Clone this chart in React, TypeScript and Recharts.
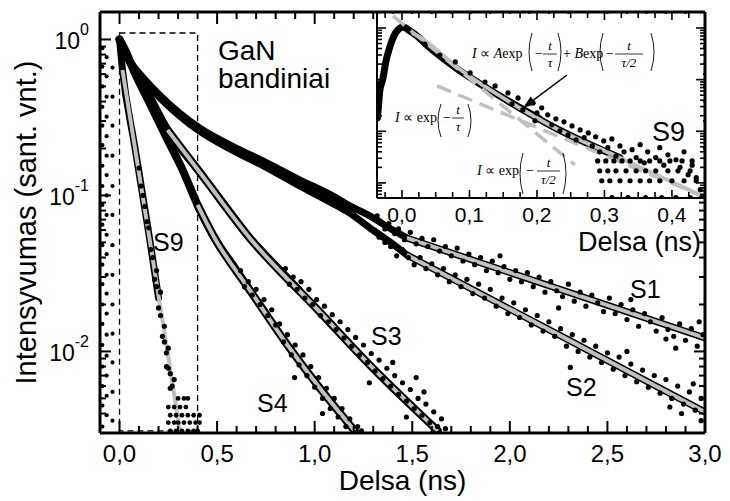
import React from 'react';
import { ComposedChart, Line, XAxis, YAxis, ReferenceArea } from 'recharts';

const SANS = '"Liberation Sans", Arial, Helvetica, sans-serif';
const SERIF = '"Liberation Serif", "Times New Roman", Times, serif';
const FIT = '#c0c0c0';

// ---------- main plot: axes
const xMajor = [0, 0.5, 1, 1.5, 2, 2.5, 3];
const xLabels = ['0,0', '0,5', '1,0', '1,5', '2,0', '2,5', '3,0'];
const xMinor = [0.1, 0.2, 0.3, 0.4, 0.6, 0.7, 0.8, 0.9, 1.1, 1.2, 1.3, 1.4, 1.6, 1.7, 1.8, 1.9, 2.1, 2.2, 2.3, 2.4, 2.6, 2.7, 2.8, 2.9];
const yMajor = [0.01, 0.1, 1];
const yExponents = ['-2', '-1', '0'];
const yMinor = [0.004, 0.005, 0.006, 0.007, 0.008, 0.009, 0.02, 0.03, 0.04, 0.05, 0.06, 0.07, 0.08, 0.09, 0.2, 0.3, 0.4, 0.5, 0.6, 0.7, 0.8, 0.9];

const seriesNames = ['S1', 'S2', 'S3', 'S4', 'S9'];

// ---------- main plot: data (t in ns, normalised intensity)
// dense early parts of each transient
const s1Band = [[0, 1.0], [0.026, 0.83], [0.067, 0.687], [0.118, 0.575], [0.205, 0.441], [0.41, 0.271], [0.585, 0.205], [0.754, 0.162], [0.923, 0.126], [1.092, 0.0993], [1.18, 0.0857], [1.282, 0.074], [1.4, 0.06], [1.472, 0.0534]];
const s2Band = [[0, 1.0], [0.026, 0.82], [0.067, 0.67], [0.118, 0.555], [0.205, 0.425], [0.41, 0.258], [0.585, 0.193], [0.754, 0.151], [0.923, 0.115], [1.092, 0.089], [1.18, 0.077], [1.282, 0.062], [1.38, 0.051], [1.472, 0.0416]];
const s3Band = [[0, 1.0], [0.036, 0.795], [0.103, 0.55], [0.154, 0.428], [0.246, 0.263], [0.41, 0.1415], [0.55, 0.083], [0.667, 0.0534], [0.821, 0.0333], [0.92, 0.0247]];
const s4Band = [[0, 1.0], [0.036, 0.819], [0.067, 0.656], [0.154, 0.392], [0.241, 0.234], [0.323, 0.146], [0.4, 0.0869], [0.487, 0.0534], [0.58, 0.0359], [0.667, 0.0248]];
const s9Band = [[0, 1.0], [0.015, 0.64], [0.077, 0.21], [0.154, 0.053], [0.2, 0.022]];

// scattered points in the noisy tails
const s1Dots = [[1.32, 0.074], [1.34, 0.066], [1.36, 0.061], [1.38, 0.066], [1.41, 0.057], [1.43, 0.061], [1.46, 0.052], [1.49, 0.058], [1.52, 0.049], [1.55, 0.053], [1.58, 0.047], [1.61, 0.052], [1.64, 0.044], [1.67, 0.047], [1.7, 0.041], [1.73, 0.046], [1.76, 0.038], [1.79, 0.042], [1.82, 0.036], [1.85, 0.04], [1.88, 0.033], [1.91, 0.038], [1.94, 0.032], [1.95, 0.041], [1.97, 0.035], [2.0, 0.029], [2.03, 0.033], [2.06, 0.028], [2.09, 0.032], [2.12, 0.026], [2.15, 0.03], [2.18, 0.024], [2.21, 0.028], [2.24, 0.0245], [2.25, 0.019], [2.27, 0.0225], [2.3, 0.027], [2.33, 0.021], [2.36, 0.024], [2.39, 0.0195], [2.42, 0.023], [2.45, 0.0205], [2.48, 0.018], [2.51, 0.022], [2.54, 0.0175], [2.57, 0.02], [2.6, 0.016], [2.62, 0.0215], [2.63, 0.0185], [2.66, 0.0145], [2.69, 0.0175], [2.72, 0.0155], [2.75, 0.0135], [2.78, 0.0165], [2.8, 0.012], [2.81, 0.0138], [2.84, 0.0125], [2.85, 0.0105], [2.87, 0.015], [2.9, 0.0118], [2.93, 0.014], [2.96, 0.0108], [2.97, 0.0155], [2.99, 0.0128]];
const s2Dots = [[1.3, 0.06], [1.33, 0.054], [1.36, 0.05], [1.39, 0.047], [1.42, 0.041], [1.45, 0.045], [1.48, 0.04], [1.51, 0.036], [1.54, 0.04], [1.57, 0.034], [1.6, 0.0365], [1.63, 0.031], [1.66, 0.034], [1.69, 0.028], [1.72, 0.031], [1.75, 0.026], [1.78, 0.029], [1.81, 0.0235], [1.84, 0.027], [1.87, 0.022], [1.9, 0.025], [1.93, 0.0195], [1.96, 0.022], [1.99, 0.0175], [2.02, 0.0205], [2.05, 0.0165], [2.08, 0.0185], [2.11, 0.0148], [2.14, 0.017], [2.17, 0.0135], [2.2, 0.0155], [2.23, 0.0125], [2.26, 0.014], [2.29, 0.0108], [2.31, 0.0079], [2.32, 0.0128], [2.35, 0.01], [2.38, 0.0118], [2.41, 0.0092], [2.44, 0.0108], [2.47, 0.0085], [2.5, 0.0098], [2.53, 0.0077], [2.56, 0.0092], [2.59, 0.007], [2.6, 0.01], [2.62, 0.0083], [2.65, 0.0064], [2.68, 0.0076], [2.71, 0.0059], [2.74, 0.007], [2.77, 0.0054], [2.8, 0.0066], [2.82, 0.0044], [2.83, 0.005], [2.86, 0.006], [2.88, 0.004], [2.89, 0.0046], [2.92, 0.0055], [2.94, 0.0062], [2.95, 0.0042], [2.98, 0.005], [2.98, 0.0036]];
const s3Dots = [[0.85, 0.034], [0.87, 0.027], [0.89, 0.03], [0.91, 0.025], [0.93, 0.028], [0.95, 0.022], [0.97, 0.025], [0.99, 0.02], [1.01, 0.0215], [1.03, 0.017], [1.05, 0.0195], [1.07, 0.0155], [1.09, 0.0172], [1.11, 0.0138], [1.13, 0.0155], [1.15, 0.0122], [1.17, 0.0138], [1.19, 0.0108], [1.21, 0.0123], [1.23, 0.0095], [1.25, 0.011], [1.27, 0.0085], [1.28, 0.0063], [1.29, 0.0097], [1.31, 0.0075], [1.33, 0.0088], [1.35, 0.0067], [1.37, 0.0078], [1.39, 0.006], [1.4, 0.0085], [1.41, 0.007], [1.43, 0.0053], [1.45, 0.0063], [1.47, 0.0048], [1.47, 0.0038], [1.49, 0.0057], [1.51, 0.0043], [1.52, 0.0068], [1.53, 0.005], [1.55, 0.0039], [1.56, 0.0055], [1.57, 0.0046], [1.59, 0.0035], [1.61, 0.0041], [1.63, 0.0033], [1.65, 0.0037], [1.67, 0.0032]];
const s4Dots = [[0.62, 0.033], [0.64, 0.026], [0.66, 0.028], [0.68, 0.023], [0.7, 0.025], [0.72, 0.02], [0.74, 0.0215], [0.76, 0.017], [0.78, 0.0185], [0.8, 0.0148], [0.82, 0.015], [0.84, 0.0115], [0.86, 0.0128], [0.88, 0.0095], [0.897, 0.0068], [0.9, 0.011], [0.92, 0.0082], [0.94, 0.0095], [0.96, 0.007], [0.98, 0.008], [1.0, 0.0059], [1.02, 0.0068], [1.04, 0.005], [1.04, 0.004], [1.06, 0.0058], [1.08, 0.0043], [1.1, 0.005], [1.12, 0.0038], [1.14, 0.0043], [1.16, 0.0033], [1.18, 0.0037], [1.22, 0.0033], [1.24, 0.0031]];
const s9Dots = [[0.1, 0.15], [0.11, 0.115], [0.12, 0.1], [0.13, 0.085], [0.14, 0.068], [0.15, 0.062], [0.16, 0.045], [0.17, 0.04], [0.18, 0.029], [0.19, 0.026], [0.19, 0.033], [0.2, 0.019], [0.21, 0.017], [0.21, 0.024], [0.22, 0.0125], [0.23, 0.0115], [0.23, 0.0145], [0.24, 0.008], [0.24, 0.0098], [0.25, 0.0078], [0.25, 0.0105], [0.26, 0.0058], [0.26, 0.0072], [0.27, 0.006], [0.28, 0.0066]];
// S9 noise floor: discrete intensity levels and the times they occur at
const s9FloorLevels = [0.005, 0.0044, 0.0039, 0.0035, 0.0031];
const s9FloorTimes = [
  [0.3, 0.33, 0.35],
  [0.25, 0.28, 0.31, 0.34],
  [0.26, 0.29, 0.32, 0.35, 0.38, 0.41],
  [0.25, 0.28, 0.3, 0.33, 0.36, 0.39, 0.41],
  [0.26, 0.29, 0.32, 0.35, 0.38, 0.4],
];
// rising edges before t = 0 (columns of points)
const riseLevelsA = [0.0033, 0.0045, 0.006, 0.008, 0.011, 0.015, 0.02, 0.027, 0.036, 0.048, 0.065, 0.087, 0.115, 0.155, 0.21, 0.28, 0.37, 0.5, 0.67, 0.88];
const riseLevelsB = [0.0039, 0.0052, 0.007, 0.0094, 0.0128, 0.0175, 0.0235, 0.031, 0.042, 0.056, 0.075, 0.1, 0.135, 0.18, 0.24, 0.32, 0.43, 0.58, 0.77];
const riseLevelsC = [0.0036, 0.0055, 0.0085, 0.013, 0.02, 0.031, 0.048, 0.075, 0.115, 0.18, 0.28, 0.43, 0.66];
const riseTimesA = [-0.088];
const riseTimesB = [-0.066];
const riseTimesC = [-0.036];

// fits (grey)
const s1Fit = [[1.472, 0.0534], [2.2, 0.0264], [3.0, 0.0122]];
const s2Fit = [[1.472, 0.0416], [2.2, 0.0138], [3.0, 0.00409]];
const s3Fit = [[0.246, 0.263], [0.41, 0.1415], [0.667, 0.0534], [1.026, 0.0179], [1.282, 0.00819], [1.631, 0.0031]];
const s4Fit = [[0.4, 0.0869], [0.487, 0.0534], [0.667, 0.0248], [0.872, 0.0105], [1.026, 0.00583], [1.205, 0.0031]];
const s9Fit = [[0.015, 0.637], [0.154, 0.0526], [0.31, 0.0031]];

// ---------- inset (S9, first 0.45 ns)
const inXMajor = [0, 0.1, 0.2, 0.3, 0.4];
const inXLabels = ['0,0', '0,1', '0,2', '0,3', '0,4'];
const inXMinor = [-0.025, 0.025, 0.05, 0.075, 0.125, 0.15, 0.175, 0.225, 0.25, 0.275, 0.325, 0.35, 0.375, 0.425];
const inYMajor = [0.001, 0.01, 0.1, 1];
const inYMinor = [0.0006, 0.0007, 0.0008, 0.0009, 0.002, 0.003, 0.004, 0.005, 0.006, 0.007, 0.008, 0.009, 0.02, 0.03, 0.04, 0.05, 0.06, 0.07, 0.08, 0.09, 0.2, 0.3, 0.4, 0.5, 0.6, 0.7, 0.8, 0.9, 2];

const inBand = [[-0.0365, 0.0182], [-0.035, 0.0284], [-0.033, 0.0578], [-0.028, 0.108], [-0.024, 0.22], [-0.018, 0.429], [-0.012, 0.7], [-0.006, 0.915], [0.0015, 1.045], [0.012, 0.875], [0.024, 0.67], [0.0415, 0.41], [0.064, 0.24], [0.086, 0.147], [0.116, 0.0826], [0.145, 0.0484], [0.175, 0.0284], [0.204, 0.0174]];
const inDots = [[0.034, 0.49], [0.056, 0.3], [0.079, 0.22], [0.101, 0.135], [0.123, 0.09], [0.138, 0.0755], [0.157, 0.0553], [0.163, 0.0339], [0.172, 0.0443], [0.179, 0.0259], [0.194, 0.0354], [0.197, 0.0159], [0.2, 0.0227], [0.207, 0.0284], [0.216, 0.0208], [0.222, 0.0133], [0.228, 0.0174], [0.234, 0.0102], [0.24, 0.0152], [0.246, 0.0085], [0.252, 0.0127], [0.258, 0.0068], [0.264, 0.0106], [0.27, 0.0075], [0.276, 0.0093], [0.282, 0.0052], [0.287, 0.0078], [0.293, 0.004], [0.299, 0.0065], [0.305, 0.0048], [0.311, 0.0071], [0.317, 0.0033], [0.323, 0.0052], [0.329, 0.004], [0.341, 0.0044], [0.347, 0.0031], [0.353, 0.0055], [0.359, 0.00245], [0.364, 0.004], [0.376, 0.0031], [0.382, 0.0048], [0.388, 0.0022], [0.394, 0.0035], [0.406, 0.0028], [0.412, 0.002], [0.418, 0.004], [0.424, 0.00144], [0.43, 0.0022], [0.436, 0.00126], [0.442, 0.00074]];
const inFloorLevels = [0.00267, 0.00171, 0.0011, 0.00052];
const inFloorTimes = [
  [0.29, 0.302, 0.314, 0.326, 0.338, 0.353, 0.367, 0.382, 0.397, 0.415, 0.43],
  [0.293, 0.305, 0.317, 0.332, 0.347, 0.361, 0.376, 0.394, 0.409, 0.427],
  [0.296, 0.308, 0.323, 0.338, 0.353, 0.367, 0.382, 0.4, 0.418, 0.436],
  [0.311, 0.335, 0.361, 0.385, 0.406, 0.427, 0.444],
];
const inFitSum = [[0.015, 0.8], [0.0237, 0.7], [0.083, 0.168], [0.157, 0.0387], [0.227, 0.0116], [0.323, 0.00306], [0.444, 0.000563]];
const inFitSlow = [[0.052, 0.0755], [0.444, 0.000563]];
const inFitFast = [[-0.0133, 1.71], [0.256, 0.00224]];

// ---------- helpers
const pts = (a: number[][]) => a.map(([t, v]) => ({ t, v }));
const rows = (times: number[][], levels: number[]) => levels.flatMap((lv, i) => times[i].map((t) => [t, lv]));
const columns = (times: number[], levels: number[]) => times.flatMap((t) => levels.map((lv) => [t, lv]));

type Side = 'bottom' | 'top' | 'left' | 'right';
interface TickCfg { side: Side; majors: number[]; labels?: string[]; major: number; minor: number; sw: number; font?: number; off?: number; power?: boolean }

const majorIndex = (majors: number[], v: number) =>
  majors.findIndex((m) => Math.abs(m - v) <= Math.abs(m) * 1e-6 + 1e-9);

const makeTick = (c: TickCfg) => (props: any) => {
  const { x, y, payload } = props;
  const i = majorIndex(c.majors, payload.value);
  const len = i >= 0 ? c.major : c.minor;
  const dx = c.side === 'left' ? len : c.side === 'right' ? -len : 0;
  const dy = c.side === 'bottom' ? -len : c.side === 'top' ? len : 0;
  let label = null;
  if (c.labels && i >= 0) {
    if (c.power) {
      label = (
        <text x={x - (c.off || 0)} y={y + 10} textAnchor="end" fontSize={c.font} fontFamily={SANS} fill="#000">
          10<tspan dy={-14} fontSize={16}>{c.labels[i]}</tspan>
        </text>
      );
    } else {
      label = (
        <text x={x} y={y + (c.off || 0)} textAnchor="middle" fontSize={c.font} fontFamily={SANS} fill="#000">
          {c.labels[i]}
        </text>
      );
    }
  }
  return (
    <g>
      <line x1={x} y1={y} x2={x + dx} y2={y + dy} stroke="#000" strokeWidth={c.sw} />
      {label}
    </g>
  );
};

const band = (key: string, data: number[][], w: number, xa: string, ya: string) => (
  <Line key={key} xAxisId={xa} yAxisId={ya} data={pts(data)} dataKey="v" type="monotone" stroke="#000" strokeWidth={w}
    strokeLinecap="round" strokeLinejoin="round" dot={false} activeDot={false} isAnimationActive={false} />
);
const dots = (key: string, data: number[][], r: number, xa: string, ya: string) => (
  <Line key={key} xAxisId={xa} yAxisId={ya} data={pts(data)} dataKey="v" stroke="none" strokeWidth={0}
    dot={{ r, fill: '#000', stroke: 'none' }} activeDot={false} isAnimationActive={false} />
);
const fit = (key: string, data: number[][], w: number, xa: string, ya: string, dash?: string) => (
  <Line key={key} xAxisId={xa} yAxisId={ya} data={pts(data)} dataKey="v" type="monotone" stroke={FIT} strokeWidth={w}
    strokeDasharray={dash} dot={false} activeDot={false} isAnimationActive={false} />
);

const mainBottomTick = makeTick({ side: 'bottom', majors: xMajor, labels: xLabels, major: 12, minor: 7, sw: 2, font: 24, off: 29 });
const mainTopTick = makeTick({ side: 'top', majors: xMajor, major: 12, minor: 7, sw: 2 });
const mainLeftTick = makeTick({ side: 'left', majors: yMajor, labels: yExponents, major: 11, minor: 6, sw: 2, font: 23, off: 11, power: true });
const mainRightTick = makeTick({ side: 'right', majors: yMajor, major: 11, minor: 6, sw: 2 });

const inBottomTick = makeTick({ side: 'bottom', majors: inXMajor, labels: inXLabels, major: 8, minor: 6, sw: 1.6, font: 21, off: 24 });
const inTopTick = makeTick({ side: 'top', majors: inXMajor, major: 8, minor: 6, sw: 1.6 });
const inLeftTick = makeTick({ side: 'left', majors: inYMajor, major: 9, minor: 5, sw: 1.6 });
const inRightTick = makeTick({ side: 'right', majors: inYMajor, major: 9, minor: 5, sw: 1.6 });

const axisStyle = (w: number) => ({ stroke: '#000', strokeWidth: w });

const MainChart = () => (
  <ComposedChart width={730} height={501} margin={{ top: 11, right: 24, bottom: 8, left: 10 }}>
    <XAxis xAxisId="b" dataKey="t" type="number" domain={[-0.1, 3]} allowDataOverflow ticks={[...xMajor, ...xMinor]}
      interval={0} tickSize={0} tickMargin={0} tickLine={false} axisLine={axisStyle(3)} tick={mainBottomTick} height={60}
      label={(p: any) => (
        <text x={p.viewBox.x + p.viewBox.width / 2} y={p.viewBox.y + 57} textAnchor="middle" fontSize={28} fontFamily={SANS} fill="#000">
          Delsa (ns)
        </text>
      )} />
    <XAxis xAxisId="t" orientation="top" dataKey="t" type="number" domain={[-0.1, 3]} allowDataOverflow ticks={[...xMajor, ...xMinor]}
      interval={0} tickSize={0} tickMargin={0} tickLine={false} axisLine={axisStyle(3)} tick={mainTopTick} height={1} />
    <YAxis yAxisId="l" type="number" scale="log" domain={[0.003, 1.5]} allowDataOverflow ticks={[...yMajor, ...yMinor]}
      interval={0} tickSize={0} tickMargin={0} tickLine={false} axisLine={axisStyle(3)} tick={mainLeftTick} width={90}
      label={(p: any) => {
        const cx = p.viewBox.x + 26;
        const cy = p.viewBox.y + p.viewBox.height / 2;
        return (
          <text x={cx} y={cy} transform={`rotate(-90 ${cx} ${cy})`} textAnchor="middle" fontSize={29} fontFamily={SANS} fill="#000">
            Intensyvumas (sant. vnt.)
          </text>
        );
      }} />
    <YAxis yAxisId="r" orientation="right" type="number" scale="log" domain={[0.003, 1.5]} allowDataOverflow ticks={[...yMajor, ...yMinor]}
      interval={0} tickSize={0} tickMargin={0} tickLine={false} axisLine={axisStyle(3)} tick={mainRightTick} width={1} />

    <ReferenceArea xAxisId="b" yAxisId="l" x1={0} x2={0.4} y1={0.0031} y2={1.1} fill="none" fillOpacity={0}
      stroke="#000" strokeWidth={1.3} strokeDasharray="6 4" />

    {dots('riseA', columns(riseTimesA, riseLevelsA), 2.1, 'b', 'l')}
    {dots('riseB', columns(riseTimesB, riseLevelsB), 2.1, 'b', 'l')}
    {dots('riseC', columns(riseTimesC, riseLevelsC), 2.1, 'b', 'l')}
    {band('b1', s1Band, 7, 'b', 'l')}
    {band('b2', s2Band, 7, 'b', 'l')}
    {band('b3', s3Band, 8, 'b', 'l')}
    {band('b4', s4Band, 8, 'b', 'l')}
    {band('b9', s9Band, 7, 'b', 'l')}
    {band('t1', s1Fit, 7, 'b', 'l')}
    {band('t2', s2Fit, 7, 'b', 'l')}
    {band('t3', s3Fit, 8, 'b', 'l')}
    {band('t4', s4Fit, 8, 'b', 'l')}
    {dots('d1', s1Dots, 2.6, 'b', 'l')}
    {dots('d2', s2Dots, 2.6, 'b', 'l')}
    {dots('d3', s3Dots, 2.6, 'b', 'l')}
    {dots('d4', s4Dots, 2.6, 'b', 'l')}
    {dots('d9', s9Dots, 2.6, 'b', 'l')}
    {dots('f9', rows(s9FloorTimes, s9FloorLevels), 2.4, 'b', 'l')}
    {fit('fit1', s1Fit, 4, 'b', 'l')}
    {fit('fit2', s2Fit, 4, 'b', 'l')}
    {fit('fit3', s3Fit, 4, 'b', 'l')}
    {fit('fit4', s4Fit, 4, 'b', 'l')}
    {fit('fit9', s9Fit, 4, 'b', 'l')}
    <Line xAxisId="t" yAxisId="r" data={pts(s1Fit)} dataKey="v" stroke="none" dot={false} activeDot={false} isAnimationActive={false} />
  </ComposedChart>
);

const InsetChart = () => (
  <ComposedChart width={345} height={260} margin={{ top: 11, right: 9, bottom: 2, left: 6 }}>
    <XAxis xAxisId="b" dataKey="t" type="number" domain={[-0.037, 0.449]} allowDataOverflow ticks={[...inXMajor, ...inXMinor]}
      interval={0} tickSize={0} tickMargin={0} tickLine={false} axisLine={axisStyle(2)} tick={inBottomTick} height={60}
      label={(p: any) => (
        <text x={p.viewBox.x + p.viewBox.width - 4} y={p.viewBox.y + 53} textAnchor="end" fontSize={27} fontFamily={SANS} fill="#000">
          Delsa (ns)
        </text>
      )} />
    <XAxis xAxisId="t" orientation="top" dataKey="t" type="number" domain={[-0.037, 0.449]} allowDataOverflow ticks={[...inXMajor, ...inXMinor]}
      interval={0} tickSize={0} tickMargin={0} tickLine={false} axisLine={axisStyle(2)} tick={inTopTick} height={1} />
    <YAxis yAxisId="l" type="number" scale="log" domain={[0.00051, 2.04]} allowDataOverflow ticks={[...inYMajor, ...inYMinor]}
      interval={0} tickSize={0} tickMargin={0} tickLine={false} axisLine={axisStyle(2)} tick={inLeftTick} width={1} />
    <YAxis yAxisId="r" orientation="right" type="number" scale="log" domain={[0.00051, 2.04]} allowDataOverflow ticks={[...inYMajor, ...inYMinor]}
      interval={0} tickSize={0} tickMargin={0} tickLine={false} axisLine={axisStyle(2)} tick={inRightTick} width={1} />

    {band('ib', inBand, 7, 'b', 'l')}
    {band('it', inFitSum.slice(3, 6), 7, 'b', 'l')}
    {dots('id', inDots, 2.6, 'b', 'l')}
    {dots('if', rows(inFloorTimes, inFloorLevels), 2.6, 'b', 'l')}
    {fit('ifs', inFitSum, 4, 'b', 'l')}
    {fit('ifa', inFitSlow, 3.5, 'b', 'l', '15 8')}
    {fit('ifb', inFitFast, 3.5, 'b', 'l', '15 8')}
    <Line xAxisId="t" yAxisId="r" data={pts(inFitSlow)} dataKey="v" stroke="none" dot={false} activeDot={false} isAnimationActive={false} />
  </ComposedChart>
);

// thin tall parenthesis used in the formulas
const Paren = ({ x, y1, y2, right }: { x: number; y1: number; y2: number; right?: boolean }) => {
  const m = (y1 + y2) / 2;
  const d = right ? `M${x - 2},${y1} Q${x + 4},${m} ${x - 2},${y2}` : `M${x + 2},${y1} Q${x - 4},${m} ${x + 2},${y2}`;
  return <path d={d} fill="none" stroke="#000" strokeWidth={0.9} />;
};
const Frac = ({ x, w, y, num, den }: { x: number; w: number; y: number; num: string; den: string }) => (
  <g fontSize={13}>
    <text x={x + w / 2} y={y - 4} textAnchor="middle" fontStyle="italic">{num}</text>
    <line x1={x} x2={x + w} y1={y} y2={y} stroke="#000" strokeWidth={0.8} />
    <text x={x + w / 2} y={y + 13} textAnchor="middle" fontStyle="italic">{den}</text>
  </g>
);

const Annotations = () => (
  <svg width={730} height={501} style={{ position: 'absolute', left: 0, top: 0, pointerEvents: 'none' }}>
    <g fontFamily={SANS} fill="#000">
      <text x={218} y={60} fontSize={28}>GaN</text>
      <text x={218} y={88} fontSize={28}>bandiniai</text>
      <text x={630} y={298} fontSize={25}>{seriesNames[0]}</text>
      <text x={566} y={396} fontSize={25}>{seriesNames[1]}</text>
      <text x={371} y={345} fontSize={25}>{seriesNames[2]}</text>
      <text x={257} y={412} fontSize={25}>{seriesNames[3]}</text>
      <text x={153} y={251} fontSize={25}>{seriesNames[4]}</text>
      <text x={652} y={141} fontSize={27}>{seriesNames[4]}</text>
    </g>
    <g fontFamily={SERIF} fill="#000" fontSize={14}>
      {/* I ∝ A exp(-t/τ) + B exp(-t/(τ/2)) */}
      <text x={472} y={58}><tspan fontStyle="italic">I</tspan> ∝ <tspan fontStyle="italic">A</tspan>exp</text>
      <Paren x={530} y1={33} y2={71} />
      <text x={535} y={58}>−</text>
      <Frac x={543} w={14} y={54} num="t" den="τ" />
      <Paren x={560} y1={33} y2={71} right />
      <text x={563} y={58}>+ <tspan fontStyle="italic">B</tspan>exp</text>
      <Paren x={601} y1={33} y2={71} />
      <text x={606} y={58}>−</text>
      <Frac x={615} w={28} y={54} num="t" den="τ/2" />
      <Paren x={653} y1={33} y2={71} right />

      {/* I ∝ exp(-t/τ) */}
      <text x={395} y={122}><tspan fontStyle="italic">I</tspan> ∝ exp</text>
      <Paren x={439} y1={104} y2={137} />
      <text x={443} y={122}>−</text>
      <Frac x={452} w={12} y={118} num="t" den="τ" />
      <Paren x={470} y1={104} y2={137} right />

      {/* I ∝ exp(-t/(τ/2)) */}
      <text x={477} y={175}><tspan fontStyle="italic">I</tspan> ∝ exp</text>
      <Paren x={521} y1={153} y2={194} />
      <text x={526} y={175}>−</text>
      <Frac x={537} w={23} y={171} num="t" den="τ/2" />
      <Paren x={565} y1={153} y2={194} right />
    </g>
    <line x1={567} y1={75} x2={533.4} y2={100.2} stroke="#000" strokeWidth={1.5} />
    <polygon points="523,108 536.1,103.8 530.7,96.6" fill="#000" />
  </svg>
);

export default function App() {
  return (
    <div style={{ position: 'absolute', left: 0, top: 0, width: 730, height: 501, background: '#fff', overflow: 'hidden' }}>
      <div style={{ position: 'absolute', left: 0, top: 0 }}>
        <MainChart />
      </div>
      <div style={{ position: 'absolute', left: 377, top: 14, width: 326, height: 184, background: '#fff' }} />
      <div style={{ position: 'absolute', left: 370, top: 0 }}>
        <InsetChart />
      </div>
      <Annotations />
    </div>
  );
}
